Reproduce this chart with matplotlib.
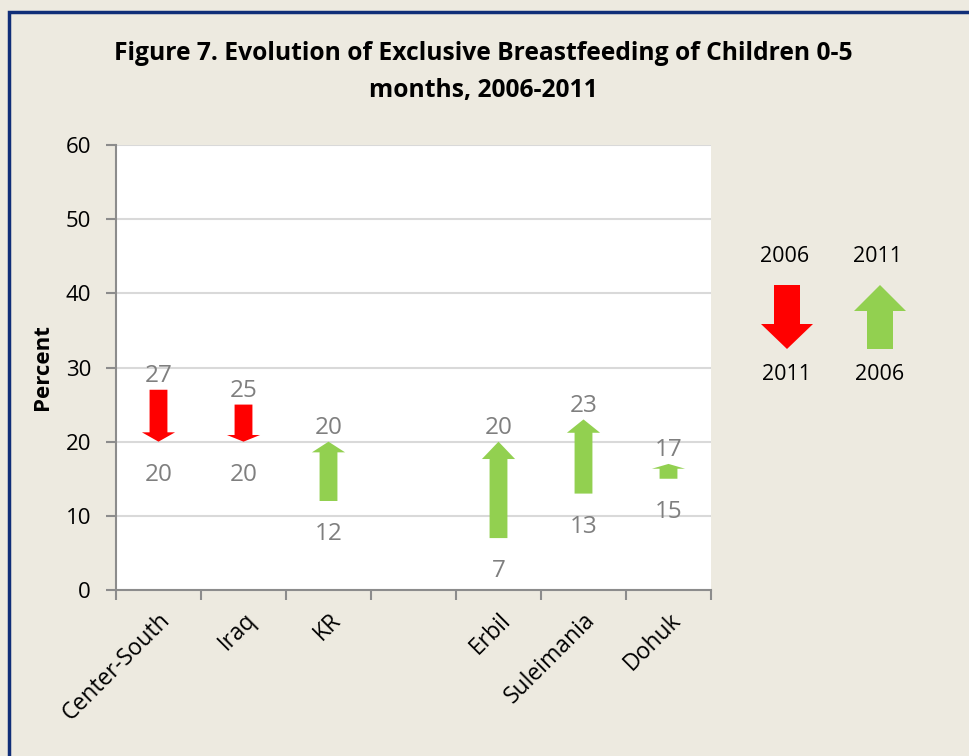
import numpy as np
import matplotlib
matplotlib.use("Agg")
import matplotlib.pyplot as plt

plt.rcParams['font.family'] = ['Open Sans', 'DejaVu Sans']

# --- Data ----------------------------------------------------------------------
regions = ["Center-South", "Iraq", "KR", "", "Erbil", "Suleimania", "Dohuk"]
val_2006 = [27, 25, 12, None, 7, 13, 15]
val_2011 = [20, 20, 20, None, 20, 23, 17]
y_ticks = [0, 10, 20, 30, 40, 50, 60]

RED = "#FF0000"
GREEN = "#92D050"
BG = "#EDEAE0"
GRID = "#D9D9D9"
AXIS = "#8C8C8C"
LABEL = "#7F7F7F"

W, H = 970, 756
fig = plt.figure(figsize=(W / 100, H / 100), dpi=100, facecolor=BG)

# --- Main plot area ------------------------------------------------------------
left, right, top, bottom = 116, 711, 145, 590
ax = fig.add_axes([left / W, 1 - bottom / H, (right - left) / W, (bottom - top) / H])
ax.set_facecolor("white")
ax.set_xlim(0, len(regions))
ax.set_ylim(0, 60)

for s in ["top", "right"]:
    ax.spines[s].set_visible(False)
for s in ["left", "bottom"]:
    ax.spines[s].set_color(AXIS)
    ax.spines[s].set_linewidth(1.5)

ax.set_yticks(y_ticks)
ax.tick_params(axis="y", length=7, width=1.5, color=AXIS, labelsize=16, pad=11)
ax.yaxis.grid(True, color=GRID, linewidth=1.5)
ax.set_axisbelow(True)

centers = np.arange(len(regions)) + 0.5
ax.set_xticks(centers)
ax.set_xticklabels(regions, rotation=45, ha="right", rotation_mode="anchor", fontsize=16.5)
ax.tick_params(axis="x", length=0, pad=13)
ax.set_xticks(np.arange(len(regions) + 1), minor=True)
ax.tick_params(axis="x", which="minor", length=7, width=1.5, color=AXIS)

ax.set_ylabel("Percent", fontsize=16, fontweight="bold", labelpad=9)

# Arrows from the 2006 value to the 2011 value
for x, a, b in zip(centers, val_2006, val_2011):
    if a is None:
        continue
    d = b - a
    color = GREEN if d > 0 else RED
    hl = max(0.18 * abs(d), 0.65)
    ax.arrow(x, a, 0, d, width=0.21, head_width=0.39, head_length=hl,
             length_includes_head=True, color=color, lw=0, zorder=3)
    hi, lo = max(a, b), min(a, b)
    ax.annotate(f"{hi}", (x, hi), xytext=(0, 10), textcoords="offset points",
                ha="center", va="center", fontsize=17.5, color=LABEL)
    ax.annotate(f"{lo}", (x, lo), xytext=(0, -24), textcoords="offset points",
                ha="center", va="center", fontsize=17.5, color=LABEL)

# --- Overlay in pixel coordinates: frame, title, key -------------------------
ov = fig.add_axes([0, 0, 1, 1], facecolor="none")
ov.set_xlim(0, W)
ov.set_ylim(H, 0)
ov.axis("off")

ov.plot([9, 9, W + 10], [H + 10, 12, 12], color="#102E78", lw=2.5,
        solid_joinstyle="miter")

ov.text(483, 53, "Figure 7. Evolution of Exclusive Breastfeeding of Children 0-5",
        ha="center", va="center", fontsize=17.7, fontweight="bold")
ov.text(483, 90, "months, 2006-2011",
        ha="center", va="center", fontsize=17.7, fontweight="bold")

# Key: red = decrease, green = increase
ov.arrow(787, 285, 0, 64, width=26, head_width=52, head_length=25,
         length_includes_head=True, color=RED, lw=0)
ov.arrow(880, 349, 0, -64, width=26, head_width=52, head_length=26,
         length_includes_head=True, color=GREEN, lw=0)
ov.text(785, 257, "2006", ha="center", va="center", fontsize=15.5)
ov.text(878, 257, "2011", ha="center", va="center", fontsize=15.5)
ov.text(787, 374, "2011", ha="center", va="center", fontsize=15.5)
ov.text(880, 374, "2006", ha="center", va="center", fontsize=15.5)

fig.savefig("out.png", dpi=100, facecolor=BG)
